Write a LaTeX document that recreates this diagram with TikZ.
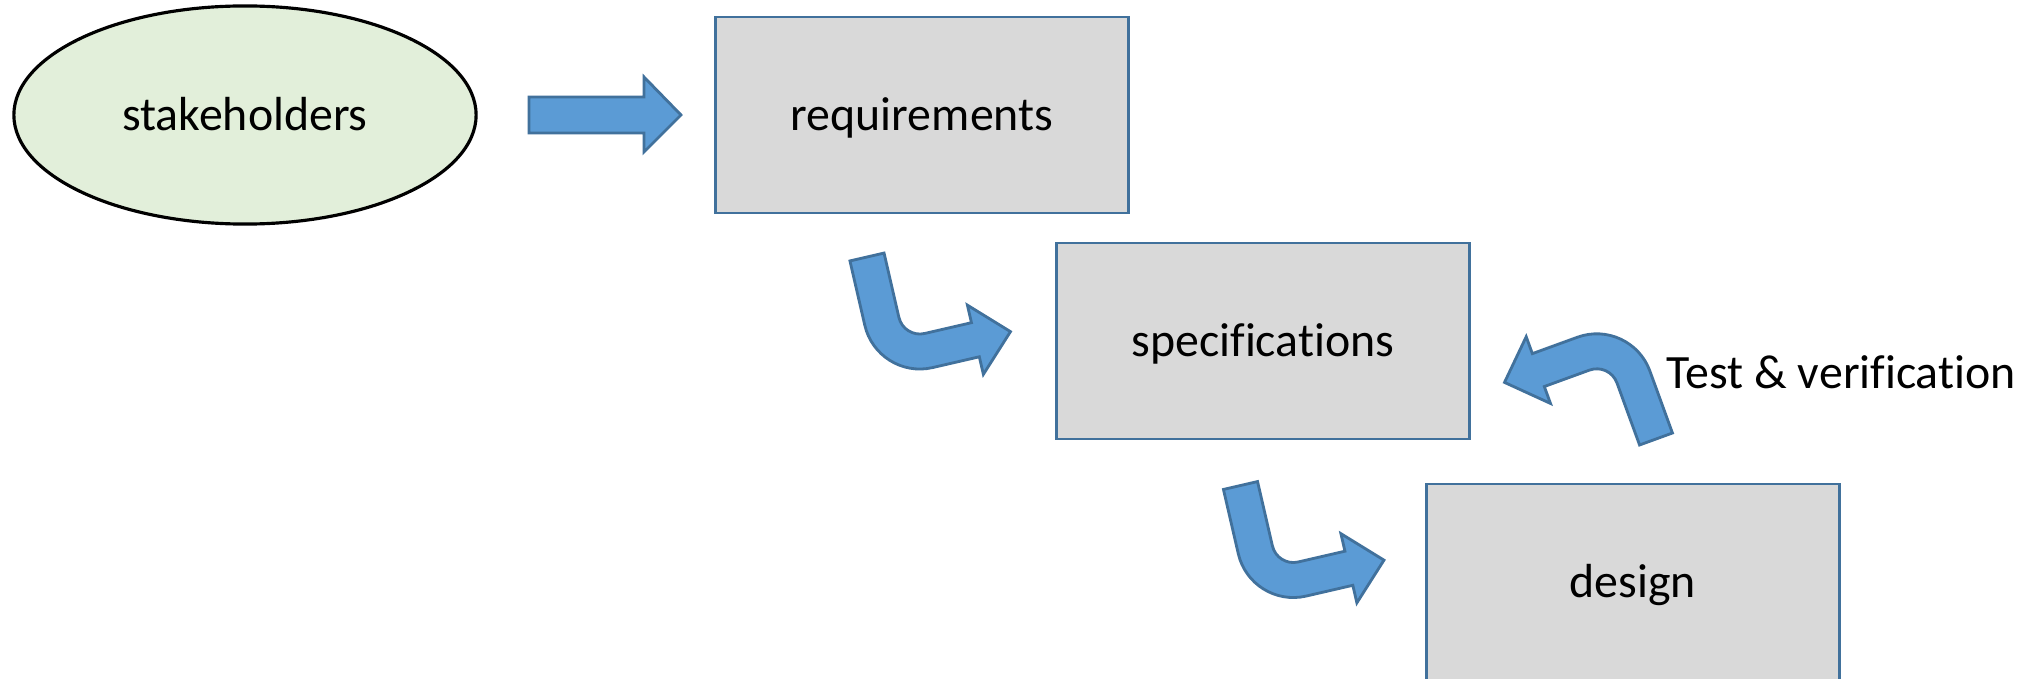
\documentclass[tikz,border=0pt]{standalone}
\usepackage{fontspec}
\setmainfont[Ligatures={NoCommon}]{Carlito}
\usetikzlibrary{shapes.geometric}

\definecolor{boxfill}{RGB}{217,217,217}
\definecolor{boxline}{RGB}{65,113,156}
\definecolor{ovalfill}{RGB}{226,239,218}
\definecolor{arrowfill}{RGB}{91,155,213}
\definecolor{arrowline}{RGB}{65,113,156}

% L-shaped block arrow in local units (y grows downwards):
% tail at the top, shaft goes down, bends right into the head.
\newcommand{\bendshape}{(-17.5,0) -- (17.5,0) -- (17.5,66)
  .. controls (17.5,77.9) and (27.1,87.5) .. (39,87.5) -- (87,87.5)
  -- (87,69.5) -- (123,105) -- (87,140.5) -- (87,122.5) -- (39,122.5)
  .. controls (7.8,122.5) and (-17.5,97.2) .. (-17.5,66) -- cycle}

\tikzset{
  label font/.style={font=\fontsize{13.6pt}{16pt}\selectfont},
  stagebox/.style={rectangle, draw=boxline, fill=boxfill, line width=0.8pt,
    minimum width=4.13cm, minimum height=1.96cm, inner sep=0pt,
    text height=0.31cm, text depth=0pt, label font},
  oval/.style={ellipse, draw=black, fill=ovalfill, line width=0.9pt,
    minimum width=4.62cm, minimum height=2.18cm, inner sep=0pt,
    text height=0.30cm, text depth=0pt, label font},
  blockarrow/.style={draw=arrowline, fill=arrowfill, line width=0.8pt,
    line join=miter}
}

\begin{document}
\begin{tikzpicture}[x=0.01cm, y=-0.01cm]
\clip (0,0) rectangle (2020,679);
\fill[white] (0,0) rectangle (2020,679);

% stages
\node[oval] (stake) at (245,115) {stakeholders};
\node[stagebox] (req) at (922,115) {requirements};
\node[stagebox] (spec) at (1263,341) {specifications};
\node[stagebox] (des) at (1633,582) {design};

% straight block arrow from stakeholders towards requirements
\coordinate (sa) at (529,115);
\draw[blockarrow, shift={(sa)}] (0,-18) -- (115,-18) -- (115,-38) -- (152,0)
  -- (115,37) -- (115,18) -- (0,18) -- cycle;

% bent arrows down the cascade
\draw[blockarrow, shift={(867,257)}, rotate=13] \bendshape;
\draw[blockarrow, shift={(1240.5,485.5)}, rotate=13] \bendshape;

% feedback arrow from design back to specifications
\draw[blockarrow, shift={(1656,439)}, rotate=200] \bendshape;
\node[label font, anchor=base west, inner sep=0pt] (tv) at (1666,389) {Test \& verification};
\end{tikzpicture}
\end{document}
